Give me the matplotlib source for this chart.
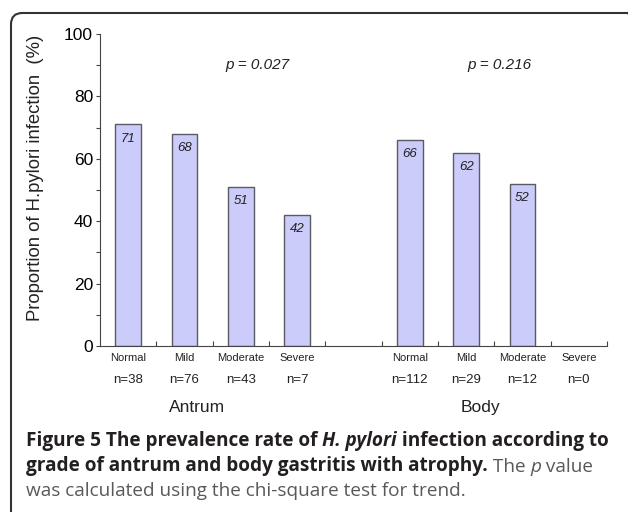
import matplotlib.pyplot as plt
from matplotlib.patches import FancyBboxPatch

# data
grades = ['Normal', 'Mild', 'Moderate', 'Severe']
antrum_rate = [71, 68, 51, 42]
body_rate = [66, 62, 52, None]   # severe body: n=0, no bar
antrum_n = [38, 76, 43, 7]
body_n = [112, 29, 12, 0]
p_antrum = '0.027'
p_body = '0.216'

plt.rcParams['font.family'] = ['Liberation Sans', 'DejaVu Sans']

fig = plt.figure(figsize=(6.28, 5.12), dpi=100)
W, H = 628.0, 512.0

# rounded frame (only top/left visible, rest runs off the page)
frame = FancyBboxPatch((11 / W, -20 / H), 628 / W, (512 - 13 + 20) / H,
                       boxstyle='round,pad=0,rounding_size=0.018',
                       transform=fig.transFigure, fill=False,
                       edgecolor='#333333', linewidth=1.5, mutation_aspect=W / H)
fig.patches.append(frame)

ax = fig.add_axes([100 / W, (512 - 346) / H, 507 / W, 312 / H])

antrum_x = [0, 1, 2, 3]
body_x = [5, 6, 7, 8]
bar_kw = dict(width=0.46, color='#ccccfb', edgecolor='#5a5a66', linewidth=1.0)

ax.bar(antrum_x, antrum_rate, **bar_kw)
bx = [x for x, v in zip(body_x, body_rate) if v is not None]
bv = [v for v in body_rate if v is not None]
ax.bar(bx, bv, **bar_kw)

for x, v in list(zip(antrum_x, antrum_rate)) + list(zip(bx, bv)):
    ax.text(x, v - 4.6, str(v), ha='center', va='center', fontsize=9.5,
            style='italic', color='#222222')

ax.set_xlim(-0.5, 8.5)
ax.set_ylim(0, 100)
ax.spines['top'].set_visible(False)
ax.spines['right'].set_visible(False)
ax.spines['left'].set_color('#444444')
ax.spines['bottom'].set_color('#444444')

ax.set_yticks([0, 20, 40, 60, 80, 100])
ax.set_yticks([10, 30, 50, 70, 90], minor=True)
ax.tick_params(axis='y', which='both', direction='out', length=3, width=0.8,
               color='#444444', labelsize=12.5, pad=2)
ax.set_xticks([0.5, 1.5, 2.5, 3.5, 4.5, 5.5, 6.5, 7.5, 8.5])
ax.set_xticklabels([])
ax.tick_params(axis='x', direction='in', length=3.5, width=0.8, color='#444444')

ax.set_ylabel('Proportion of H.pylori infection  (%)', fontsize=13.3, color='#222222')
ax.yaxis.set_label_coords(-0.11, 0.54)

trans = ax.get_xaxis_transform()
for xs, ns in [(antrum_x, antrum_n), (body_x, body_n)]:
    for x, g, n in zip(xs, grades, ns):
        ax.text(x, -0.038, g, transform=trans, ha='center', va='center',
                fontsize=8, color='#222222')
        ax.text(x, -0.108, 'n=%d' % n, transform=trans, ha='center', va='center',
                fontsize=9.5, color='#222222')

ax.text(1.23, -0.196, 'Antrum', transform=trans, ha='center', va='center',
        fontsize=12.5, color='#222222')
ax.text(6.25, -0.196, 'Body', transform=trans, ha='center', va='center',
        fontsize=12.5, color='#222222')

ax.text(2.3, 90, 'p = ' + p_antrum, ha='center', va='center', fontsize=11,
        style='italic', color='#222222')
ax.text(6.59, 90, 'p = ' + p_body, ha='center', va='center', fontsize=11,
        style='italic', color='#222222')

# caption, built from chained text pieces
cap_fs = 13.7
dark = '#231f20'
grey = '#58595b'
lines = [
    [('Figure 5 The prevalence rate of ', 'bold', 'normal', dark),
     ('H. pylori', 'bold', 'italic', dark),
     (' infection according to', 'bold', 'normal', dark)],
    [('grade of antrum and body gastritis with atrophy.', 'bold', 'normal', dark),
     (' The ', 'normal', 'normal', grey),
     ('p', 'normal', 'italic', grey),
     (' value', 'normal', 'normal', grey)],
    [('was calculated using the chi-square test for trend.', 'normal', 'normal', grey)],
]
baselines = [446, 471, 496]
for pieces, yb in zip(lines, baselines):
    prev = None
    for txt, wt, st, col in pieces:
        kw = dict(fontsize=cap_fs, fontweight=wt, style=st, color=col,
                  family=['Open Sans', 'DejaVu Sans'], ha='left')
        if prev is None:
            prev = fig.text(26 / W, 1 - yb / H, txt, va='baseline', **kw)
        else:
            prev = ax.annotate(txt, xy=(1, 0), xycoords=prev, va='bottom',
                               annotation_clip=False, **kw)

fig.savefig('out.png', dpi=100)
